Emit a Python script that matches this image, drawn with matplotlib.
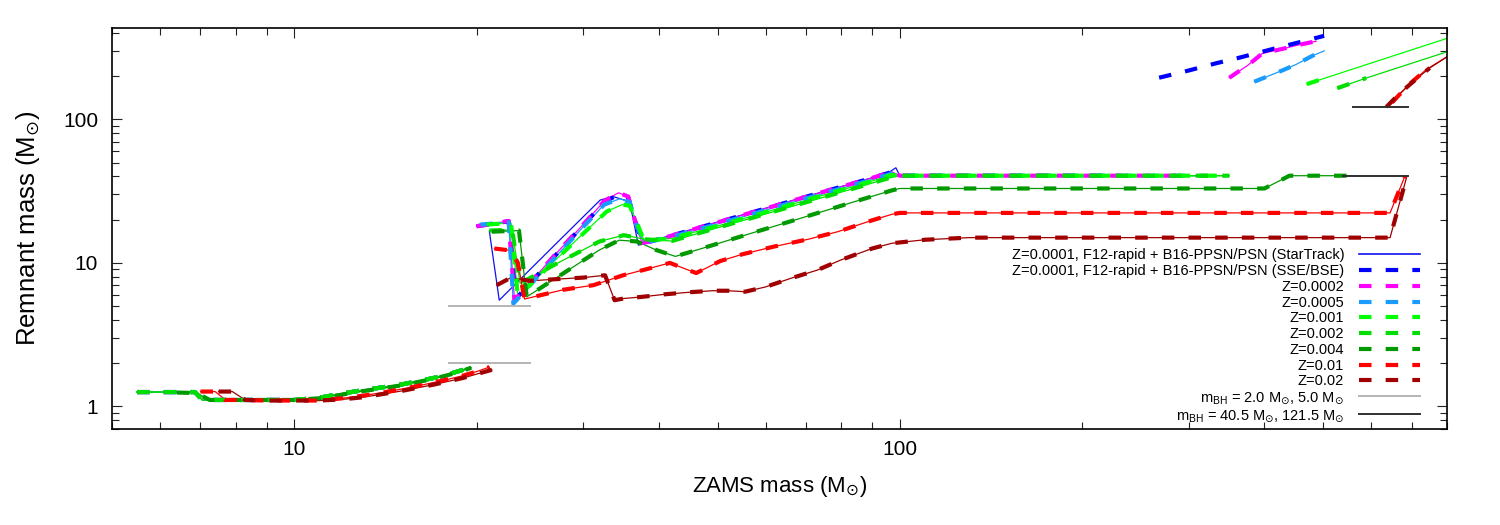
import matplotlib
matplotlib.use('Agg')
import matplotlib.pyplot as plt
from matplotlib.lines import Line2D
from matplotlib.ticker import LogLocator, FixedLocator, FixedFormatter, NullFormatter

plt.rcParams['font.family'] = ['Liberation Sans', 'DejaVu Sans']
plt.rcParams['mathtext.fontset'] = 'dejavusans'

# ---------------- data ----------------
# neutron-star branch, Z <= 0.002
ns_mass_lowZ = [5.5, 6.0, 6.5, 6.85, 7.05, 7.6, 8.2, 9.0, 10.0, 11.0, 12.0, 13.0, 14.0, 15.0, 16.0, 17.0, 18.0, 19.0, 19.5]
ns_rem_lowZ = [1.26, 1.26, 1.26, 1.26, 1.11, 1.11, 1.11, 1.11, 1.11, 1.15, 1.23, 1.30, 1.36, 1.42, 1.50, 1.58, 1.68, 1.80, 1.88]
ns_mass_z004 = [6.4, 6.9, 7.25, 7.6, 8.2, 9.0, 10.0, 11.0, 12.0, 13.0, 14.0, 15.0, 16.0, 17.0, 18.0, 19.0, 19.6]
ns_rem_z004 = [1.25, 1.24, 1.11, 1.11, 1.11, 1.11, 1.11, 1.14, 1.21, 1.28, 1.34, 1.40, 1.48, 1.56, 1.66, 1.78, 1.86]
ns_mass_z01 = [7.0, 7.4, 7.7, 8.2, 9.0, 10.0, 11.0, 12.0, 13.0, 14.0, 15.0, 16.0, 17.0, 18.0, 19.0, 20.0, 21.0]
ns_rem_z01 = [1.27, 1.27, 1.11, 1.11, 1.10, 1.10, 1.10, 1.14, 1.19, 1.25, 1.32, 1.39, 1.47, 1.55, 1.64, 1.75, 1.88]
ns_mass_z02 = [7.5, 7.9, 8.3, 9.0, 10.0, 11.0, 12.0, 13.0, 14.0, 15.0, 16.0, 17.0, 18.0, 19.0, 20.0, 21.2]
ns_rem_z02 = [1.27, 1.27, 1.11, 1.10, 1.10, 1.10, 1.12, 1.16, 1.22, 1.28, 1.35, 1.42, 1.50, 1.58, 1.68, 1.80]

# black-hole branch
bh_mass_st = [21.0, 21.8, 27.0, 32.0, 33.6, 35.8, 37.0, 38.3, 42.0, 46.8, 50.5, 56.6, 62.0, 68.4, 75.0, 82.7, 90.0, 96.0, 98.5, 100.0, 250.0]
bh_rem_st = [16.5, 5.5, 13.5, 27.4, 29.0, 26.7, 13.3, 14.0, 15.6, 17.8, 19.5, 22.4, 25.0, 28.2, 31.5, 35.4, 39.2, 42.8, 46.0, 40.5, 40.5]

bh_mass_z00001 = [20.0, 22.6, 23.2, 27.0, 30.0, 32.5, 34.3, 35.6, 36.5, 37.5, 38.5, 42.0, 46.8, 50.5, 56.6, 62.0, 68.4, 75.0, 82.7, 90.0, 97.0, 100.0, 230.0]
bh_rem_z00001 = [18.0, 19.5, 5.6, 11.3, 18.3, 26.5, 30.0, 28.5, 20.0, 14.0, 14.0, 15.5, 17.7, 19.4, 22.3, 24.9, 28.1, 31.4, 35.3, 39.1, 43.0, 40.5, 40.5]
bh_mass_z00002 = [20.0, 22.6, 23.1, 27.0, 30.0, 32.5, 34.3, 35.6, 36.5, 37.5, 38.5, 42.0, 46.8, 50.5, 56.6, 62.0, 68.4, 75.0, 82.7, 90.0, 97.0, 100.0, 300.0]
bh_rem_z00002 = [18.0, 19.6, 5.5, 11.5, 18.5, 27.0, 30.8, 29.0, 20.0, 13.8, 14.0, 15.5, 17.7, 19.4, 22.3, 24.9, 28.1, 31.4, 35.3, 39.1, 43.0, 40.5, 40.5]
bh_mass_z00005 = [20.3, 22.6, 23.0, 27.0, 30.0, 32.5, 34.5, 35.8, 36.8, 37.8, 42.0, 46.8, 50.5, 56.6, 62.0, 68.4, 75.0, 82.7, 90.0, 97.0, 100.0, 320.0]
bh_rem_z00005 = [18.5, 19.2, 5.2, 11.0, 17.8, 25.5, 28.0, 26.5, 18.0, 13.8, 15.2, 17.3, 18.9, 21.7, 24.3, 27.4, 30.6, 34.4, 38.1, 42.0, 40.5, 40.5]
bh_mass_z0001 = [20.8, 22.8, 23.4, 27.0, 30.0, 32.8, 34.8, 35.8, 36.8, 37.8, 42.0, 46.8, 50.5, 56.6, 62.0, 68.4, 75.0, 82.7, 90.0, 97.0, 100.0, 350.0]
bh_rem_z0001 = [18.5, 19.0, 5.8, 10.5, 16.0, 22.8, 25.5, 25.0, 19.0, 14.3, 14.8, 16.8, 18.3, 21.0, 23.5, 26.6, 29.8, 33.5, 37.2, 41.0, 40.5, 40.5]
bh_mass_z0002 = [21.0, 22.9, 23.6, 27.0, 31.9, 35.0, 38.0, 42.0, 46.8, 50.5, 56.6, 68.4, 82.7, 90.0, 97.0, 100.0, 350.0]
bh_rem_z0002 = [16.8, 17.0, 7.2, 9.8, 14.1, 15.6, 14.6, 14.2, 16.2, 17.8, 20.4, 25.7, 32.4, 36.0, 39.5, 40.5, 40.5]
bh_mass_z0004 = [21.2, 23.5, 24.2, 27.5, 31.9, 34.4, 36.8, 39.6, 42.6, 46.8, 50.5, 56.6, 68.4, 82.7, 90.0, 97.0, 100.0, 200.0, 400.0, 440.0, 570.0]
bh_rem_z0004 = [16.5, 16.8, 5.8, 8.2, 12.3, 14.4, 14.1, 12.3, 11.1, 12.5, 13.8, 16.0, 20.4, 26.1, 29.1, 32.0, 33.0, 33.0, 33.0, 40.5, 40.5]
bh_mass_z001 = [21.4, 22.8, 23.4, 24.0, 27.8, 31.2, 34.9, 38.0, 41.7, 46.1, 50.5, 55.0, 62.0, 70.5, 79.0, 90.0, 97.0, 100.0, 645.0, 683.0]
bh_rem_z001 = [12.6, 12.2, 10.0, 5.6, 6.5, 7.0, 8.2, 9.0, 10.0, 8.5, 10.3, 11.5, 13.0, 14.6, 16.5, 19.8, 21.8, 22.3, 22.3, 40.5]
bh_mass_z002 = [21.6, 22.8, 24.5, 27.0, 30.0, 32.6, 33.8, 35.0, 37.5, 41.0, 45.0, 49.0, 52.0, 55.5, 60.0, 66.0, 73.0, 80.0, 90.0, 97.0, 110.0, 130.0, 645.0, 688.0]
bh_rem_z002 = [7.0, 7.9, 7.5, 7.7, 7.9, 8.2, 5.5, 5.65, 5.8, 6.05, 6.25, 6.4, 6.4, 6.3, 6.8, 7.8, 8.9, 10.5, 12.6, 13.7, 14.5, 15.0, 15.0, 40.5]

# very massive (direct collapse) branch
hi_mass_z00001 = [268, 300, 333, 360, 420, 470, 502]
hi_rem_z00001 = [195, 219, 246, 266, 315, 355, 382]
hi_mass_z00002 = [350, 375, 397, 430, 460, 487]
hi_rem_z00002 = [195, 237, 288, 311, 333, 350]
hi_mass_z00005 = [385, 428, 451, 480, 502]
hi_rem_z00005 = [183, 219, 241, 277, 300]
hi_mass_z0001 = [470, 502, 800]
hi_rem_z0001 = [176, 193, 366]
hi_mass_z0002 = [528, 589, 800]
hi_rem_z0002 = [165, 194, 295]
hi_mass_z001 = [650, 690, 740, 800]
hi_rem_z001 = [131, 172, 222, 272]
hi_mass_z002 = [636, 660, 690, 720, 750, 800]
hi_rem_z002 = [122, 143, 170, 198, 228, 272]

# reference mass lines
ref_low_mass = [18.0, 24.5]
ref_low_levels = [2.0, 5.0]
ref_high_mass = [[540, 690], [560, 690]]
ref_high_levels = [40.5, 121.5]

labels = ['Z=0.0001, F12-rapid + B16-PPSN/PSN (StarTrack)',
          'Z=0.0001, F12-rapid + B16-PPSN/PSN (SSE/BSE)',
          'Z=0.0002', 'Z=0.0005', 'Z=0.001', 'Z=0.002', 'Z=0.004', 'Z=0.01', 'Z=0.02',
          r'm$_{\mathregular{BH}}$ = 2.0 M$_{\odot}$, 5.0 M$_{\odot}$',
          r'm$_{\mathregular{BH}}$ = 40.5 M$_{\odot}$, 121.5 M$_{\odot}$']
colors = ['#1010ee', '#0000ff', '#ff00ff', '#1a9bff', '#00ff00', '#00dd00', '#009a00', '#ff0000', '#a00000']
gray_c = '#b4b4b4'
black_c = '#303030'

# ---------------- figure ----------------
fig = plt.figure(figsize=(15, 5.25), dpi=100)
ax = fig.add_axes([0.07467, 0.18343, 0.88980, 0.76381])
ax.set_xscale('log')
ax.set_yscale('log')

THIN = 0.9
THICK = 3.0
DASH = (3.0, 3.4)


def thin(x, y, c):
    ax.plot(x, y, color=c, lw=THIN, zorder=2)


def dashed(x, y, c):
    ax.plot(x, y, color=c, lw=THICK, dashes=DASH, dash_capstyle='butt', zorder=3)


# StarTrack (solid only)
thin(ns_mass_lowZ, ns_rem_lowZ, colors[0])
thin(bh_mass_st, bh_rem_st, colors[0])

series = [
    (colors[1], [(ns_mass_lowZ, ns_rem_lowZ), (bh_mass_z00001, bh_rem_z00001), (hi_mass_z00001, hi_rem_z00001)], False),
    (colors[2], [(ns_mass_lowZ, ns_rem_lowZ), (bh_mass_z00002, bh_rem_z00002), (hi_mass_z00002, hi_rem_z00002)], True),
    (colors[3], [(ns_mass_lowZ, ns_rem_lowZ), (bh_mass_z00005, bh_rem_z00005), (hi_mass_z00005, hi_rem_z00005)], True),
    (colors[4], [(ns_mass_lowZ, ns_rem_lowZ), (bh_mass_z0001, bh_rem_z0001), (hi_mass_z0001, hi_rem_z0001)], True),
    (colors[5], [(ns_mass_lowZ, ns_rem_lowZ), (bh_mass_z0002, bh_rem_z0002), (hi_mass_z0002, hi_rem_z0002)], True),
    (colors[6], [(ns_mass_z004, ns_rem_z004), (bh_mass_z0004, bh_rem_z0004)], True),
    (colors[7], [(ns_mass_z01, ns_rem_z01), (bh_mass_z001, bh_rem_z001), (hi_mass_z001, hi_rem_z001)], True),
    (colors[8], [(ns_mass_z02, ns_rem_z02), (bh_mass_z002, bh_rem_z002), (hi_mass_z002, hi_rem_z002)], True),
]

for c, segs, with_thin in series:
    for i, (x, y) in enumerate(segs):
        if with_thin:
            thin(x, y, c)
        if x[-1] == 800 and i == 2 and c in (colors[4], colors[5]):
            dashed(x[:2], y[:2], c)
        elif x[-1] == 800 and i == 2:
            dashed(x[:-1], y[:-1], c)
        else:
            dashed(x, y, c)

for lev in ref_low_levels:
    ax.plot(ref_low_mass, [lev, lev], color=gray_c, lw=1.4, zorder=4)
for xr, lev in zip(ref_high_mass, ref_high_levels):
    ax.plot(xr, [lev, lev], color=black_c, lw=1.4, zorder=4)

ax.set_xlim(5, 800)
ax.set_ylim(0.7, 435)

# ticks
ax.xaxis.set_major_locator(FixedLocator([10, 100]))
ax.xaxis.set_major_formatter(FixedFormatter(['10', '100']))
ax.xaxis.set_minor_locator(LogLocator(base=10, subs=range(2, 10), numticks=20))
ax.xaxis.set_minor_formatter(NullFormatter())
ax.yaxis.set_major_locator(FixedLocator([1, 10, 100]))
ax.yaxis.set_major_formatter(FixedFormatter(['1', '10', '100']))
ax.yaxis.set_minor_locator(LogLocator(base=10, subs=range(2, 10), numticks=20))
ax.yaxis.set_minor_formatter(NullFormatter())
ax.tick_params(which='both', direction='in', top=True, right=True, width=0.8, color='#222222')
ax.tick_params(which='major', length=7.5, labelsize=15)
ax.tick_params(which='minor', length=5)
ax.tick_params(axis='x', which='major', pad=8)
ax.tick_params(axis='y', which='major', pad=10)
for s in ax.spines.values():
    s.set_linewidth(1.2)

ax.set_xlabel(r'ZAMS mass (M$_{\odot}$)', fontsize=16, va='center')
ax.xaxis.set_label_coords(0.5, -0.145)
ax.set_ylabel(r'Remnant mass (M$_{\odot}$)', fontsize=18.5, va='center')
ax.yaxis.set_label_coords(-0.063, 0.5)

# legend
handles = [Line2D([], [], color=colors[0], lw=1.2)]
for c in colors[1:]:
    handles.append(Line2D([], [], color=c, lw=THICK, dashes=DASH))
handles.append(Line2D([], [], color=gray_c, lw=1.4))
handles.append(Line2D([], [], color=black_c, lw=1.4))
leg = ax.legend(handles, labels, loc='lower right', bbox_to_anchor=(0.98, 0.012),
                frameon=False, markerfirst=False, fontsize=10.5, handlelength=4.2,
                handletextpad=1.0, labelspacing=0.12, borderpad=0, borderaxespad=0)

fig.savefig('out.png', dpi=100)
